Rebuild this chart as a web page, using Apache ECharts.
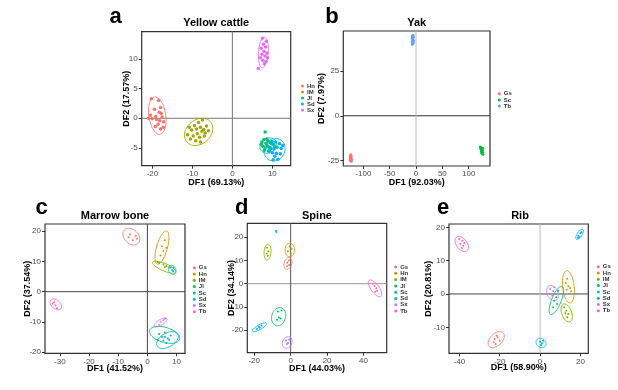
<!DOCTYPE html>
<html><head><meta charset="utf-8">
<script src="https://cdn.jsdelivr.net/npm/echarts@6/dist/echarts.min.js"></script>
<style>html,body{margin:0;padding:0;background:#fff}#c{width:618px;height:390px}</style>
</head><body><div id="c"></div>
<script>
// ---------- data ----------
const groupsA = ['Hn','IM','Jl','Sd','Sx'];
const colorsA = ['#F8766D','#A3A500','#00BF7D','#00B0F6','#E76BF3'];
const groupsB = ['Gs','Sc','Tb'];
const colorsB = ['#F8766D','#00BA38','#619CFF'];
const groups8 = ['Gs','Hn','IM','Jl','Sc','Sd','Sx','Tb'];
const colors8 = ['#F8766D','#CD9600','#7CAE00','#00BE67','#00BFC4','#00A9FF','#C77CFF','#FF61CC'];

// Panel a: Yellow cattle
const a_Hn = [[-20.3,3.3],[-18.5,3.0],[-18.0,1.8],[-19.5,1.5],[-18.3,1.0],[-17.8,0.8],[-20.5,0.5],[-19.2,0.3],[-17.6,0.2],[-20.1,-0.1],[-19.0,-0.2],[-18.2,-0.4],[-21.0,0.0],[-18.6,-1.0],[-17.3,-1.5],[-19.3,-1.4],[-18.0,-1.8],[-17.2,-0.6]];
const a_IM = [[-10.8,-1.5],[-10.2,-2.0],[-9.5,-1.2],[-9.0,-1.8],[-8.5,-0.7],[-8.0,-1.5],[-7.5,-0.3],[-7.2,-1.9],[-6.5,-1.3],[-6.0,-2.1],[-9.8,-3.0],[-8.8,-2.6],[-8.2,-3.2],[-7.0,-3.0],[-9.2,-3.8],[-8.0,-4.0],[-10.5,-3.5],[-6.8,-2.5],[-11.2,-2.8],[-7.6,-2.2]];
const a_Jl = [[8.2,-2.3],[7.4,-4.0],[7.9,-3.6],[8.4,-4.2],[8.9,-3.8],[9.4,-4.1],[9.9,-3.9],[7.6,-4.7],[8.2,-5.0],[8.7,-4.6],[9.2,-4.9],[10.2,-4.4],[8.0,-5.4],[9.0,-5.5],[9.6,-5.1],[10.6,-4.8],[7.2,-4.4],[8.6,-3.5]];
const a_Sd = [[9.8,-4.3],[10.8,-4.0],[11.8,-4.3],[9.6,-5.0],[10.4,-5.2],[11.2,-4.9],[12.2,-5.1],[10.0,-5.8],[11.0,-5.9],[12.0,-6.0],[10.6,-6.4],[11.4,-6.9],[10.2,-7.0],[12.6,-4.6],[9.3,-5.5]];
const a_Sx = [[7.5,13.5],[8.5,13.0],[7.8,12.5],[8.3,12.0],[7.2,11.8],[7.9,11.3],[8.6,11.0],[7.4,10.8],[8.2,10.5],[8.8,10.2],[7.6,9.8],[8.4,9.6],[7.0,10.2],[6.5,8.4],[8.0,9.2]];
// ellipse: [cx, cy, half-width x, half-height y, correlation]
const a_ell = [[-18.8,0.45,2.2,3.15,-0.25],[-8.45,-2.3,3.55,2.3,0.25],[9.0,-4.6,2.1,1.3,0.15],[10.55,-5.3,2.65,1.9,0.1],[7.75,11.1,1.25,2.6,0.2]];

// Panel b: Yak
const b_Gs = [[-124,-21.8],[-123,-22.5],[-125,-23],[-123.5,-23.5],[-124.5,-24],[-122.5,-24.3],[-124,-25],[-123,-25.5],[-125,-24.8],[-123.8,-22.8]];
const b_Sc = [[122,-17.5],[124,-18],[123,-18.5],[125,-19],[126,-19.5],[124,-20],[126,-20.5],[125,-21],[127,-21.5],[124.5,-19.2],[126.5,-18.2]];
const b_Tb = [[-6,45],[-5,44],[-7,43.5],[-6,42.5],[-5,42],[-7,41.5],[-6,40.5],[-5.5,41],[-6.5,44.5],[-7,40]];

// Panel c: Marrow bone
const c_pts = {
  Gs: [[-6,19],[-4,18.5],[-5,17],[-3.5,17.5],[-6.5,18]],
  Hn: [[6,17],[5,15],[6.5,14.5],[4.5,12],[5.5,13.5]],
  IM: [[4,9.5],[5.5,9],[6.5,8.5],[7.5,8],[3.5,9.8],[6,8.2]],
  Jl: [[4,-14],[5,-15],[6,-13.5],[3.5,-16],[7,-15.5]],
  Sc: [[8,8],[8.5,7.2],[9,7.8],[8.8,6.8]],
  Sd: [[6,-15],[7.5,-16],[8,-14.5],[6.5,-17],[5.5,-16.2]],
  Sx: [[4.5,-10],[5.5,-9.5],[6,-9],[4,-11]],
  Tb: [[-32.5,-4],[-31.5,-4.5],[-31,-5.5],[-32,-3.5]]
};
const c_ell = {Gs:[-5.5,18.2,2.9,2.75,-0.3],Hn:[5,14.6,2.4,5.5,0.6],IM:[5.8,8.1,4,2.0,-0.75],Jl:[5.9,-14.3,5.2,2.8,-0.4],Sc:[8.5,7.2,1.3,1.5,-0.2],Sd:[6.9,-16,3.7,2.8,0.45],Sx:[4.5,-10.2,2.2,1.5,0.7],Tb:[-31.4,-4.2,2,1.8,-0.4]};

// Panel d: Spine
const d_pts = {
  Gs: [[-1,10],[-1.8,9],[-0.8,8],[-2,7.5]],
  Hn: [[-0.5,16],[0.5,15],[-1.5,14],[0,13]],
  IM: [[-13,15.5],[-12.3,14],[-13.2,13],[-12.5,12]],
  Jl: [[-7,-12],[-5,-11.5],[-6.5,-14.5],[-5.5,-15],[-7.5,-15.5]],
  Sc: [[-8.1,22.8],[-7.8,22.3]],
  Sd: [[-18.5,-19.5],[-17,-19],[-16,-18],[-17.5,-18.5]],
  Sx: [[-2.5,-24.5],[-1.5,-25.5],[-1,-24],[-2,-26]],
  Tb: [[45,0],[46,-1],[47,-2],[47.5,-3],[46.5,-3.5]]
};
const d_ell = {Gs:[-1.5,8.7,2.2,2.5,0.25],Hn:[-0.5,14.5,2.6,2.9,0],IM:[-12.7,13.6,1.9,3.4,0.15],Jl:[-6.6,-14.2,3.9,3.9,0.15],Sd:[-17,-18.7,3.9,1.9,0.8],Sx:[-1.9,-25.3,2.7,2.5,0.2],Tb:[46.3,-2,3.7,3.6,-0.7]};

// Panel e: Rib
const e_pts = {
  Gs: [[-22.5,-13.5],[-21,-13],[-20,-14],[-22,-15],[-21.5,-12.5],[-23,-14.5]],
  Hn: [[13.5,4.6],[12.7,3.3],[14.0,2.3],[14.9,1.8],[13.2,1.3],[15.4,0.8]],
  IM: [[12,-4],[13,-5],[14,-6],[13.5,-7],[12.5,-5.8]],
  Jl: [[9,1],[8,-1],[7,-2],[8.5,-3],[6.5,-4]],
  Sc: [[0,-14.3],[1,-14.8],[0.5,-15.2],[1.5,-14]],
  Sd: [[19,17.5],[20,18.2],[19.5,17],[20.5,18.5],[18.8,16.8]],
  Sx: [[5,1.5],[6.5,0.8],[7,2],[6,-0.5]],
  Tb: [[-40,16.5],[-38.5,16],[-39.5,15],[-38,14.5],[-38.8,13.8],[-37.5,15.3]]
};
const e_ell = {Gs:[-21.7,-13.7,4,2.4,0.45],Hn:[14.05,2.15,2.95,4.85,-0.25],IM:[13.2,-5.7,2.8,2.7,-0.4],Jl:[8.05,-1.95,3.55,4.25,0.7],Sc:[0.5,-14.7,2.5,1.4,-0.2],Sd:[19.6,17.9,1.9,1.5,0.7],Sx:[6.2,0.3,2.9,2.3,-0.3],Tb:[-38.8,15,3.3,2.3,-0.45]};

// tick values
const a_xt=[-20,-10,0,10], a_yt=[-5,0,5,10];
const b_xt=[-100,-50,0,50,100], b_yt=[-25,0,25];
const c_xt=[-30,-20,-10,0,10], c_yt=[-20,-10,0,10,20];
const d_xt=[-20,0,20,40], d_yt=[-20,-10,0,10,20];
const e_xt=[-40,-20,0,20], e_yt=[-10,0,10,20];

const titles=['Yellow cattle','Yak','Marrow bone','Spine','Rib'];
const letters=['a','b','c','d','e'];
const xNames=['DF1 (69.13%)','DF1 (92.03%)','DF1 (41.52%)','DF1 (44.03%)','DF1 (58.90%)'];
const yNames=['DF2 (17.57%)','DF2 (7.97%)','DF2 (37.54%)','DF2 (34.14%)','DF2 (20.81%)'];

// ---------- layout ----------
const FF='Liberation Sans, Arial, Helvetica, sans-serif';
const L=[
 {left:141.7,top:31.7,width:149,height:134,xr:[-22.7,14.6],yr:[-8.0,14.6],xt:a_xt,yt:a_yt,xg:12.5,yg:10.5,leg:[301,83,0],hC:'#777',vC:'#777',tx:216.2,ty:22.7,lx:115.5,ly:16.5,sym:3.5},
 {left:343.3,top:31,width:146.7,height:135,xr:[-138,140.4],yr:[-28.1,47.4],xt:b_xt,yt:b_yt,xg:12,yg:17,leg:[497.8,90.7,0.2],hC:'#333',vC:'#bbb',tx:416.7,ty:22.7,lx:332,ly:16.5,sym:3},
 {left:45,top:224,width:140,height:129.3,xr:[-35.1,12.9],yr:[-20.4,22.4],xt:c_xt,yt:c_yt,xg:10.5,yg:13,leg:[192.8,264.7,0.3],hC:'#444',vC:'#444',tx:115,ty:215.7,lx:41.7,ly:207.7,sym:2},
 {left:247.3,top:223.3,width:139.4,height:129.4,xr:[-23.8,52.7],yr:[-29.7,26],xt:d_xt,yt:d_yt,xg:11,yg:11,leg:[394.2,264,0.3],hC:'#999',vC:'#555',tx:317,ty:215.7,lx:241.7,ly:207.7,sym:2},
 {left:449,top:224,width:139.3,height:129.3,xr:[-45.1,23.9],yr:[-17.8,21],xt:e_xt,yt:e_yt,xg:10,yg:15.5,leg:[596.8,263.7,0.3],hC:'#444',vC:'#bbb',tx:520,ty:215.7,lx:443,ly:207.7,sym:2}
];

const grid=[],xAxis=[],yAxis=[],series=[],legend=[],graphic=[];

function ellipseRender(colors){
  return function(params, api){
    const cx=api.value(0), cy=api.value(1), sx=api.value(2), sy=api.value(3), r=api.value(4), ci=api.value(5);
    const pts=[]; const k=Math.sqrt(1-r*r);
    for(let i=0;i<=72;i++){const t=i/72*2*Math.PI; pts.push(api.coord([cx+sx*Math.cos(t), cy+sy*(r*Math.cos(t)+k*Math.sin(t))]));}
    return {type:'polyline',shape:{points:pts},style:{stroke:colors[ci],fill:null,lineWidth:0.9}};
  };
}

L.forEach((g,i)=>{
  grid.push({left:g.left,top:g.top,width:g.width,height:g.height,show:true,borderColor:'#333',borderWidth:1.2,backgroundColor:'#fff'});
  xAxis.push({gridIndex:i,type:'value',min:g.xr[0],max:g.xr[1],name:xNames[i],nameLocation:'middle',nameGap:g.xg,nameMoveOverlap:false,
    nameTextStyle:{fontFamily:FF,fontWeight:'bold',fontSize:9,color:'#000'},
    axisLine:{show:false,onZero:false},splitLine:{show:false},
    axisTick:{show:true,customValues:g.xt,length:3,lineStyle:{color:'#333'}},
    axisLabel:{customValues:g.xt,fontFamily:FF,fontSize:8,color:'#4d4d4d',margin:4}});
  yAxis.push({gridIndex:i,type:'value',min:g.yr[0],max:g.yr[1],name:yNames[i],nameLocation:'middle',nameGap:g.yg,nameMoveOverlap:false,
    nameTextStyle:{fontFamily:FF,fontWeight:'bold',fontSize:9,color:'#000'},
    axisLine:{show:false,onZero:false},splitLine:{show:false},
    axisTick:{show:true,customValues:g.yt,length:3,lineStyle:{color:'#333'}},
    axisLabel:{customValues:g.yt,fontFamily:FF,fontSize:8,color:'#4d4d4d',margin:4}});
  // zero lines
  series.push({type:'custom',xAxisIndex:i,yAxisIndex:i,silent:true,z:1,data:[[0,0]],clip:false,
    renderItem:(params,api)=>{const o=api.coord([0,0]);const cs=params.coordSys;
      return {type:'group',children:[
        {type:'line',shape:{x1:cs.x,y1:o[1],x2:cs.x+cs.width,y2:o[1]},style:{stroke:g.hC,lineWidth:1}},
        {type:'line',shape:{x1:o[0],y1:cs.y,x2:o[0],y2:cs.y+cs.height},style:{stroke:g.vC,lineWidth:1}}]};}});
  graphic.push({type:'text',x:g.tx,y:g.ty,style:{text:titles[i],font:'bold 11px '+FF,fill:'#000',textAlign:'center',textVerticalAlign:'middle'}});
  graphic.push({type:'text',x:g.lx,y:g.ly,style:{text:letters[i],font:'bold 22px '+FF,fill:'#000',textAlign:'center',textVerticalAlign:'middle'}});
});

function addScatter(i, name, color, data, size){
  series.push({type:'scatter',name:letters[i]+'_'+name,xAxisIndex:i,yAxisIndex:i,data:data,symbolSize:size,z:3,
    itemStyle:{color:color,opacity:1},emphasis:{disabled:true}});
}
function addEllipses(i, list, colors){
  series.push({type:'custom',xAxisIndex:i,yAxisIndex:i,silent:true,z:2,clip:false,data:list,renderItem:ellipseRender(colors)});
}
function addLegend(i, groups){
  const g=L[i];
  legend.push({data:groups.map(n=>letters[i]+'_'+n),orient:'vertical',left:g.leg[0],top:g.leg[1],itemGap:g.leg[2],
    itemWidth:3,itemHeight:3,icon:'circle',padding:0,selectedMode:false,
    formatter:n=>n.split('_')[1],textStyle:{fontFamily:FF,fontSize:6,fontWeight:'bold',color:'#333',lineHeight:6,padding:[0,0,0,-2]}});
}

// panel a
const aData=[a_Hn,a_IM,a_Jl,a_Sd,a_Sx];
groupsA.forEach((n,k)=>addScatter(0,n,colorsA[k],aData[k],L[0].sym));
addEllipses(0,a_ell.map((e,k)=>[...e,k]),colorsA);
addLegend(0,groupsA);
// panel b
const bData=[b_Gs,b_Sc,b_Tb];
groupsB.forEach((n,k)=>addScatter(1,n,colorsB[k],bData[k],L[1].sym));
addLegend(1,groupsB);
// panels c,d,e
[[c_pts,c_ell],[d_pts,d_ell],[e_pts,e_ell]].forEach(([pts,ell],j)=>{
  const i=j+2;
  groups8.forEach((n,k)=>addScatter(i,n,colors8[k],pts[n],L[i].sym));
  const el=[]; groups8.forEach((n,k)=>{if(ell[n]) el.push([...ell[n],k]);});
  addEllipses(i,el,colors8);
  addLegend(i,groups8);
});

const chart=echarts.init(document.getElementById('c'),null,{renderer:'canvas'});
chart.setOption({animation:false,backgroundColor:'#fff',grid,xAxis,yAxis,series,legend,graphic});
</script></body></html>
